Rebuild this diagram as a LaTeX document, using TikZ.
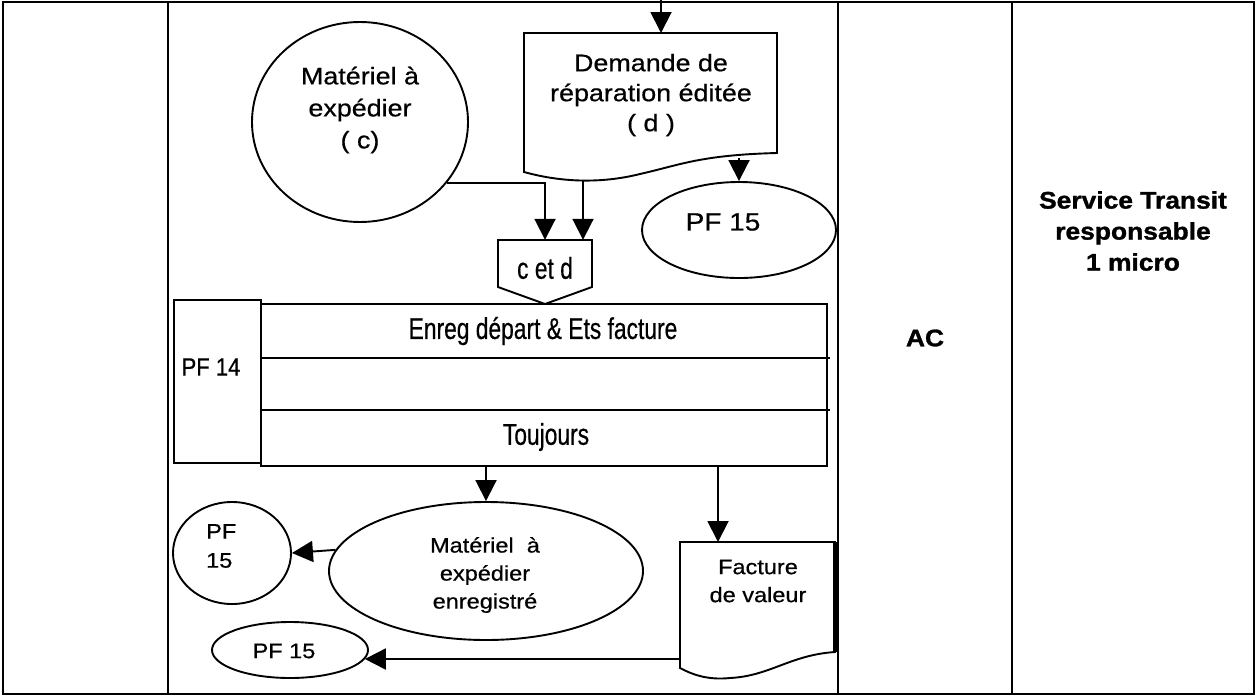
\documentclass[tikz,border=0pt]{standalone}
\usepackage{fontspec}
\setmainfont[FakeStretch=1.12,FakeBold=0.6]{Liberation Sans}
\newfontfamily\heavy[FakeStretch=1.1,FakeBold=1.2]{Liberation Sans}
\newfontfamily\nar[FakeStretch=0.76,FakeBold=0.5]{Liberation Sans}
\newfontfamily\narw[FakeStretch=0.88,FakeBold=0.5]{Liberation Sans}
\usetikzlibrary{arrows.meta,shapes.geometric}
\begin{document}
\begin{tikzpicture}[x=1pt,y=-1pt,
  frame/.style={line width=1.6pt},
  shp/.style={draw, line width=1.9pt, inner sep=0pt},
  arr/.style={line width=1.9pt, -{Triangle[length=21pt,width=21pt]}},
  lbl/.style={inner sep=0pt, align=center},
  ]
\fill[white] (0,0) rectangle (1256,697);
\path[use as bounding box] (0,0) rectangle (1256,697);

% frame and lanes
\draw[frame] (3,2) rectangle (1254,694);
\draw[line width=2.6pt] (3,2) -- (1254,2);
\draw[frame] (168,2) -- (168,694);
\draw[frame] (838,2) -- (838,694);
\draw[frame] (1012,2) -- (1012,694);

% top circle (c)
\node[shp, ellipse, minimum width=216pt, minimum height=200pt] (mc) at (360,122) {};
\node[lbl, font=\fontsize{24}{32}\selectfont] (mct) at (360,110) {Matériel à\\expédier\\( c)};

% document (d)
\draw[shp] (524,33) -- (777,33) -- (777,153) .. controls (700,155) and (680,165) .. (640,174)
  .. controls (600,184) and (560,182) .. (524,172) -- cycle;
\coordinate (intop) at (661,0);
\coordinate (demtop) at (661,33);
\coordinate (demb1) at (583,181);
\coordinate (demb2) at (739,158);
\node[lbl, font=\fontsize{24}{30}\selectfont] (demt) at (651,95) {Demande de\\réparation éditée\\( d )};

% PF 15 top right
\node[shp, ellipse, minimum width=194pt, minimum height=96pt] (pfa) at (739,230) {};
\node[lbl, font=\fontsize{25}{30}\selectfont] (pfat) at (723,222) {PF 15};

% c et d connector
\draw[shp] (498,240) -- (592,240) -- (592,287) -- (545,304) -- (498,287) -- cycle;
\node[lbl, font=\nar\fontsize{30}{30}\selectfont, minimum width=94pt, minimum height=56pt] (cetd) at (545,268) {c et d};

% arrows top part
\draw[arr] (intop) -- (demtop);
\draw[arr] (mc.-35) -| (cetd.north);
\draw[arr] (demb1) -- (demb1 |- cetd.north);
\draw[arr] (demb2) -- (pfa.north);

% process
\node[shp, rectangle, minimum width=87pt, minimum height=163pt] (pf14) at (217.5,381.5) {};
\node[shp, rectangle, minimum width=566pt, minimum height=162pt] (proc) at (544,385) {};
\draw[shp] (261,358) -- (830,358);
\draw[shp] (261,410) -- (830,410);
\node[lbl, font=\nar\fontsize{30}{30}\selectfont] (enr) at (543,331) {Enreg départ \& Ets facture};
\node[lbl, font=\nar\fontsize{30}{30}\selectfont] (tj) at (546,437) {Toujours};
\node[lbl, font=\narw\fontsize{25}{30}\selectfont] (pf14t) at (211,367) {PF 14};

% bottom ellipse
\node[shp, ellipse, minimum width=314pt, minimum height=138pt] (mat) at (486,571) {};
\node[lbl, font=\fontsize{21}{28}\selectfont] (matt) at (485,575) {Matériel~~à\\expédier\\enregistré};
\draw[arr] (mat.north |- proc.south) -- (mat.north);

% PF 15 circle left
\node[shp, ellipse, minimum width=118pt, minimum height=102pt] (pfb) at (232,553) {};
\node[lbl, align=left, anchor=west, font=\fontsize{21}{29}\selectfont] (pfbt) at (206,546) {PF\\15};
\draw[arr] (mat.172) -- (pfb.east);

% Facture document
\draw[shp] (680,542) -- (835,542) -- (835,652) .. controls (790,655) and (770,676) .. (730,678)
  .. controls (710,680) and (695,676) .. (680,668) -- cycle;
\draw[line width=4pt] (835,542) -- (835,652);
\coordinate (facttop) at (718,542);
\coordinate (factl) at (680,659);
\node[lbl, font=\fontsize{21}{28}\selectfont] (factt) at (758,581) {Facture\\de valeur};
\draw[arr] (facttop |- proc.south) -- (facttop);

% PF 15 bottom ellipse
\node[shp, ellipse, minimum width=156pt, minimum height=56pt] (pfc) at (290,650) {};
\node[lbl, font=\fontsize{21}{28}\selectfont] (pfct) at (284,651) {PF 15};
\draw[arr] (factl) -- (factl -| pfc.-7);

% right lanes
\node[lbl, font=\heavy\bfseries\fontsize{24}{30}\selectfont] (ac) at (925,338) {AC};
\node[lbl, font=\heavy\bfseries\fontsize{24}{31}\selectfont] (st) at (1133,231) {Service Transit\\responsable\\1 micro};
\end{tikzpicture}
\end{document}
